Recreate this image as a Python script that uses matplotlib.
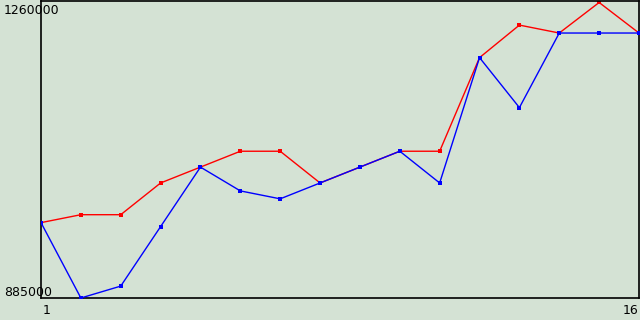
import matplotlib.pyplot as plt

# --- Daten ---
x_vals = list(range(1, 17))
red_vals = [980000, 990000, 990000, 1030000, 1050000, 1070000, 1070000, 1030000,
            1050000, 1070000, 1070000, 1188000, 1229000, 1219000, 1257500, 1219000]
blue_vals = [980000, 885000, 900000, 975000, 1050000, 1020000, 1010000, 1030000,
             1050000, 1070000, 1030000, 1188000, 1125000, 1219000, 1219000, 1219000]
y_min, y_max = 885000, 1260000
x_labels = ["1", "16"]

bg = "#d4e2d4"

fig = plt.figure(figsize=(6.4, 3.2), dpi=100, facecolor=bg)
ax = fig.add_axes([41 / 640, 22 / 320, 598 / 640, 297.5 / 320])
ax.set_facecolor(bg)

ax.plot(x_vals, red_vals, color="#ff0000", linewidth=1, marker="s",
        markersize=3, markeredgewidth=0, zorder=2)
ax.plot(x_vals, blue_vals, color="#0000ff", linewidth=1, marker="s",
        markersize=3, markeredgewidth=0, zorder=3)

ax.set_xlim(x_vals[0], x_vals[-1])
ax.set_ylim(y_min, y_max)
ax.set_xticks([])
ax.set_yticks([])
for s in ax.spines.values():
    s.set_linewidth(1.2)
    s.set_color("black")

# Achsenbeschriftungen wie im Original (innen versetzt)
fig.text(4 / 640, 1 - 10 / 320, f"{y_max}", fontsize=9, va="center", ha="left")
fig.text(4 / 640, 1 - 292 / 320, f"{y_min}", fontsize=9, va="center", ha="left")
fig.text(47 / 640, 1 - 311 / 320, x_labels[0], fontsize=9, va="center", ha="center")
fig.text(638 / 640, 1 - 311 / 320, x_labels[1], fontsize=9, va="center", ha="right")

fig.savefig("out.png", dpi=100, facecolor=bg)
